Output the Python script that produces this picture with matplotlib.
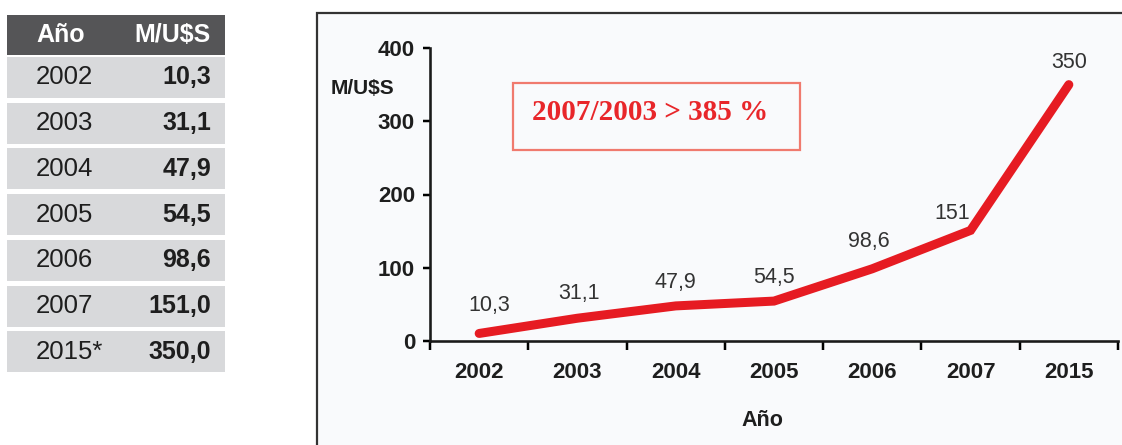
import matplotlib
matplotlib.use("Agg")
import matplotlib.pyplot as plt
from matplotlib.patches import Rectangle
import numpy as np

# data
table_years = ["2002", "2003", "2004", "2005", "2006", "2007", "2015*"]
table_values = ["10,3", "31,1", "47,9", "54,5", "98,6", "151,0", "350,0"]
categories = ["2002", "2003", "2004", "2005", "2006", "2007", "2015"]
values = [10.3, 31.1, 47.9, 54.5, 98.6, 151, 350]
point_labels = ["10,3", "31,1", "47,9", "54,5", "98,6", "151", "350"]
y_ticks = [0, 100, 200, 300, 400]

W, H = 1122, 445
DPI = 100
PT = 72 / DPI  # points per pixel

plt.rcParams['font.family'] = ['Liberation Sans', 'DejaVu Sans']

fig = plt.figure(figsize=(W / DPI, H / DPI), dpi=DPI)
fig.patch.set_facecolor("white")

# overlay in pixel coords for table and frame
bg = fig.add_axes([0, 0, 1, 1], zorder=0)
bg.set_xlim(0, W)
bg.set_ylim(H, 0)
bg.axis('off')

# table
bg.add_patch(Rectangle((7, 15), 218, 40, facecolor="#555557", edgecolor="none"))
bg.text(61, 35, "Año", color="white", fontsize=18, fontweight="bold", ha="center", va="center")
bg.text(211, 35, "M/U$S", color="white", fontsize=18, fontweight="bold", ha="right", va="center")
row_top, row_pitch, row_h = 57, 45.7, 41
for i, (yr, val) in enumerate(zip(table_years, table_values)):
    top = row_top + i * row_pitch
    bg.add_patch(Rectangle((7, top), 218, row_h, facecolor="#d8d9db", edgecolor="none"))
    cy = top + row_h / 2
    bg.text(64 + (5 if yr.endswith("*") else 0), cy, yr, color="#1e1e1e", fontsize=18.5,
            ha="center", va="center")
    bg.text(211, cy, val, color="#1e1e1e", fontsize=18, fontweight="bold",
            ha="right", va="center")

# chart frame
bg.add_patch(Rectangle((317, 13), 900, 500, facecolor="#f9fafc",
                       edgecolor="#333333", linewidth=1.6))

# chart axes
x0, x1 = 430, 1118
y0, ytop = 341, 48
ax = fig.add_axes([x0 / W, (H - y0) / H, (x1 - x0) / W, (y0 - ytop) / H], zorder=1)
ax.set_facecolor("none")

x = np.arange(len(categories))
ax.plot(x, values, color="#e61b22", linewidth=9 * PT, solid_capstyle="round",
        solid_joinstyle="miter", zorder=3, clip_on=False)

label_dx = [10, 2, 0, 0, -3, -18, 0]
label_dy = [28, 25, 23, 24, 27, 17, 22]
for xi, v, lab, dx, dy in zip(x, values, point_labels, label_dx, label_dy):
    ax.annotate(lab, (xi, v), xytext=(dx * PT, dy * PT), textcoords="offset points",
                ha="center", va="center", fontsize=15.5, color="#333333")

ax.set_xlim(-0.5, len(categories) - 0.5)
ax.set_ylim(0, 400)
ax.set_yticks(y_ticks)
ax.set_yticklabels([str(t) for t in y_ticks], fontsize=16, fontweight="bold", color="#1e1e1e")
ax.set_xticks(np.arange(len(categories) + 1) - 0.5)
ax.set_xticklabels([])
ax.set_xticks(x, minor=True)
ax.set_xticklabels(categories, minor=True, fontsize=16, fontweight="bold", color="#1e1e1e")
ax.tick_params(axis="x", which="major", direction="out", length=9 * PT, width=2.5 * PT)
ax.tick_params(axis="x", which="minor", length=0, pad=21 * PT)
ax.tick_params(axis="y", direction="out", length=7 * PT, width=2.5 * PT, pad=8 * PT)

for s in ["top", "right"]:
    ax.spines[s].set_visible(False)
for s in ["left", "bottom"]:
    ax.spines[s].set_linewidth(2.6 * PT)
    ax.spines[s].set_color("#1a1a1a")

# axis titles
bg.text(363, 88, "M/U$S", fontsize=15, fontweight="bold", color="#1e1e1e",
        ha="center", va="center", zorder=5)
bg.text(762, 421, "Año", fontsize=15.5, fontweight="bold", color="#1e1e1e",
        ha="center", va="center", zorder=5)

# growth note
bg.add_patch(Rectangle((513, 83), 287, 67, facecolor="none", edgecolor="#f07a6e",
                       linewidth=1.6, zorder=5))
bg.text(532, 112, "2007/2003 > 385 %", fontsize=21, fontweight="bold", color="#e8262a",
        family=["Liberation Serif", "DejaVu Serif"], ha="left", va="center", zorder=5)

fig.savefig("out.png", dpi=DPI)
